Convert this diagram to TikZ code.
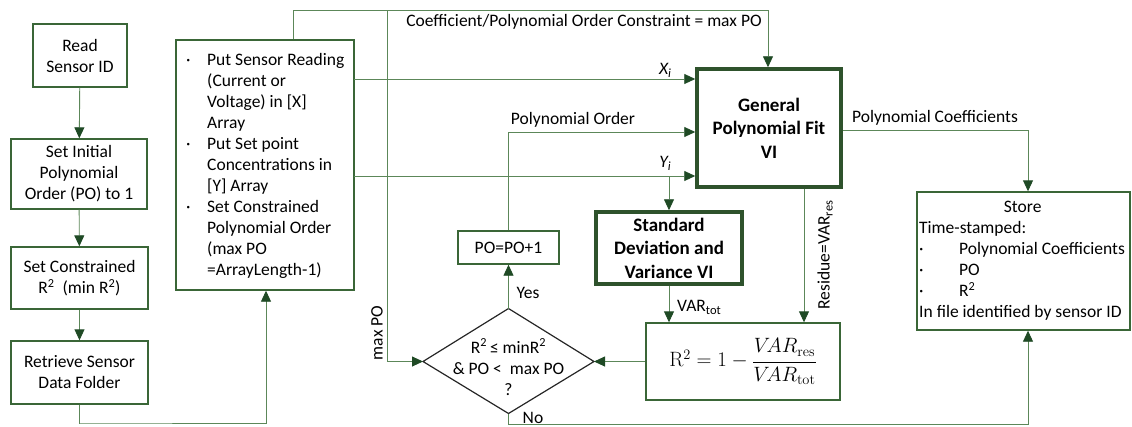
\documentclass[tikz,border=0pt]{standalone}
\usepackage[no-math]{fontspec}
\setmainfont{Carlito}
\usetikzlibrary{arrows.meta}
\definecolor{boxc}{HTML}{3A6637}
\definecolor{linec}{HTML}{5C8759}
\definecolor{tipc}{HTML}{1F4A25}
\newcommand\fs{\fontsize{17.5}{21}\selectfont}
\newcommand\fb{\fontsize{19}{23.5}\selectfont\bfseries}
\newcommand\lowtxt[1]{\raisebox{-0.35ex}{\fontsize{12.5}{12.5}\selectfont #1}}
\begin{document}
\begin{tikzpicture}[x=1pt,y=-1pt,
  box/.style={draw=boxc,line width=1.4pt,inner sep=0pt,align=center,font=\fs},
  thickbox/.style={draw=boxc!80!black,line width=3.5pt,inner sep=0pt,align=center,font=\fb},
  conn/.style={draw=linec,line width=0.9pt,-{Triangle[length=11pt,width=10pt,color=tipc]}},
  lbl/.style={font=\fs,inner sep=0pt}]
\useasboundingbox (0,0) rectangle (1132,426);
% left column
\node[box,minimum width=94pt,minimum height=63pt] (read) at (80,55.5) {Read\\Sensor ID};
\node[box,minimum width=136pt,minimum height=70pt] (init) at (79,174) {Set Initial\\Polynomial\\Order (PO) to 1};
\node[box,minimum width=137pt,minimum height=62pt] (setr) at (79.5,278) {Set Constrained\\R\textsuperscript{2}\ \ (min R\textsuperscript{2})};
\node[box,minimum width=137pt,minimum height=63pt] (retr) at (79.5,372.5) {Retrieve Sensor\\Data Folder};
% bullets box
\node[box,minimum width=178pt,minimum height=250pt] (bul) at (265,165) {};
\node[lbl,anchor=west,align=left] (bultxt) at (186,166) {%
\makebox[21pt][l]{·}Put Sensor Reading\\
\hspace*{21pt}(Current or\\
\hspace*{21pt}Voltage) in [X]\\
\hspace*{21pt}Array\\
\makebox[21pt][l]{·}Put Set point\\
\hspace*{21pt}Concentrations in\\
\hspace*{21pt}[Y] Array\\
\makebox[21pt][l]{·}Set Constrained\\
\hspace*{21pt}Polynomial Order\\
\hspace*{21pt}(max PO\\
\hspace*{21pt}=ArrayLength-1)};
% main VI boxes
\node[thickbox,minimum width=144pt,minimum height=118pt] (gen) at (769,128) {General\\Polynomial Fit\\VI};
\node[thickbox,minimum width=146pt,minimum height=72pt] (std) at (669,248) {Standard\\Deviation and\\Variance VI};
\node[box,minimum width=101pt,minimum height=33pt] (po) at (508.5,247.5) {PO=PO+1};
\node[box,minimum width=194pt,minimum height=77pt] (r2) at (743,361.5) {\fontsize{22}{24}\selectfont$\mathrm{R}^2 = 1-\displaystyle\frac{V\!AR_{\mathrm{res}}}{V\!AR_{\mathrm{tot}}}$};
% decision diamond
\coordinate (dn) at (508.5,308.5);
\coordinate (ds) at (508.5,413.5);
\coordinate (dw) at (423,361.5);
\coordinate (de) at (594,361.5);
\draw[draw=black!85,line width=1.2pt,line join=miter] (dn) -- (de) -- (ds) -- (dw) -- cycle;
\node[lbl,align=center] (dia) at (508.5,367) {R\textsuperscript{2}\,≤ minR\textsuperscript{2}\\\& PO <\ \ max PO\\?};
% store
\node[box,minimum width=213pt,minimum height=138pt] (store) at (1023.5,261) {};
\node[lbl,anchor=north west,align=left] (storetxt) at (919,201) {%
\makebox[207pt][c]{Store}\\
Time-stamped:\\
\makebox[40pt][l]{·}Polynomial Coefficients\\
\makebox[40pt][l]{·}PO\\
\makebox[40pt][l]{·}R\textsuperscript{2}\\
In file identified by sensor ID};
% coordinates
\coordinate (c1) at (80,423);
\coordinate (c2) at (266,423);
\coordinate (t1) at (293,10);
\coordinate (t2) at (768,10);
\coordinate (m1) at (387,10);
\coordinate (m2) at (387,361.5);
\coordinate (xs) at (354,79);
\coordinate (ys) at (354,176);
\coordinate (yb) at (669,176);
\coordinate (p1) at (508.5,132);
\coordinate (n1) at (508.5,424);
\coordinate (n2) at (1028,424);
\coordinate (g1) at (1028,130);
\coordinate (rs) at (804,187);
% connectors
\draw[conn] (read) -- (init);
\draw[conn] (init) -- (setr);
\draw[conn] (setr) -- (retr);
\draw[conn] (retr.south) |- (c1) -- (c2) -- (c2 |- bul.south);
\draw[conn] (t1 |- bul.north) -- (t1) -- (t2) -- (t2 |- gen.north);
\draw[conn] (m1) -- (m2) -- (dw);
\draw[conn] (xs) -- (xs -| gen.west);
\draw[conn] (ys) -- (ys -| gen.west);
\draw[conn] (yb) -- (yb |- std.north);
\draw[conn] (po.north) -- (p1) -- (p1 -| gen.west);
\draw[conn] (std.south) -- (std.south |- r2.north);
\draw[conn] (gen.south -| rs) -- (rs |- r2.north);
\draw[conn] (r2.west) -- (de);
\draw[conn] (dn) -- (po.south);
\draw[conn] (ds) -- (n1) -- (n2) -- (n2 |- store.south);
\draw[conn] (gen.east |- g1) -- (g1) -- (g1 |- store.north);
% labels
\node[lbl] (l1) at (584,22) {Coefficient/Polynomial Order Constraint = max PO};
\node[lbl] (lx) at (665,70) {\itshape X\lowtxt{i}};
\node[lbl] (ly) at (665,163) {\itshape Y\lowtxt{i}};
\node[lbl] (lpo) at (573,120) {Polynomial Order};
\node[lbl] (lpc) at (935,118) {Polynomial Coefficients};
\node[lbl,anchor=west] (lvt) at (677,307) {VAR\lowtxt{tot}};
\node[lbl,rotate=90] (lres) at (825,255) {Residue=VAR\lowtxt{res}};
\node[lbl,rotate=90] (lmax) at (377,333) {max PO};
\node[lbl] (lyes) at (528,293) {Yes};
\node[lbl] (lno) at (533,418) {No};
\end{tikzpicture}
\end{document}
